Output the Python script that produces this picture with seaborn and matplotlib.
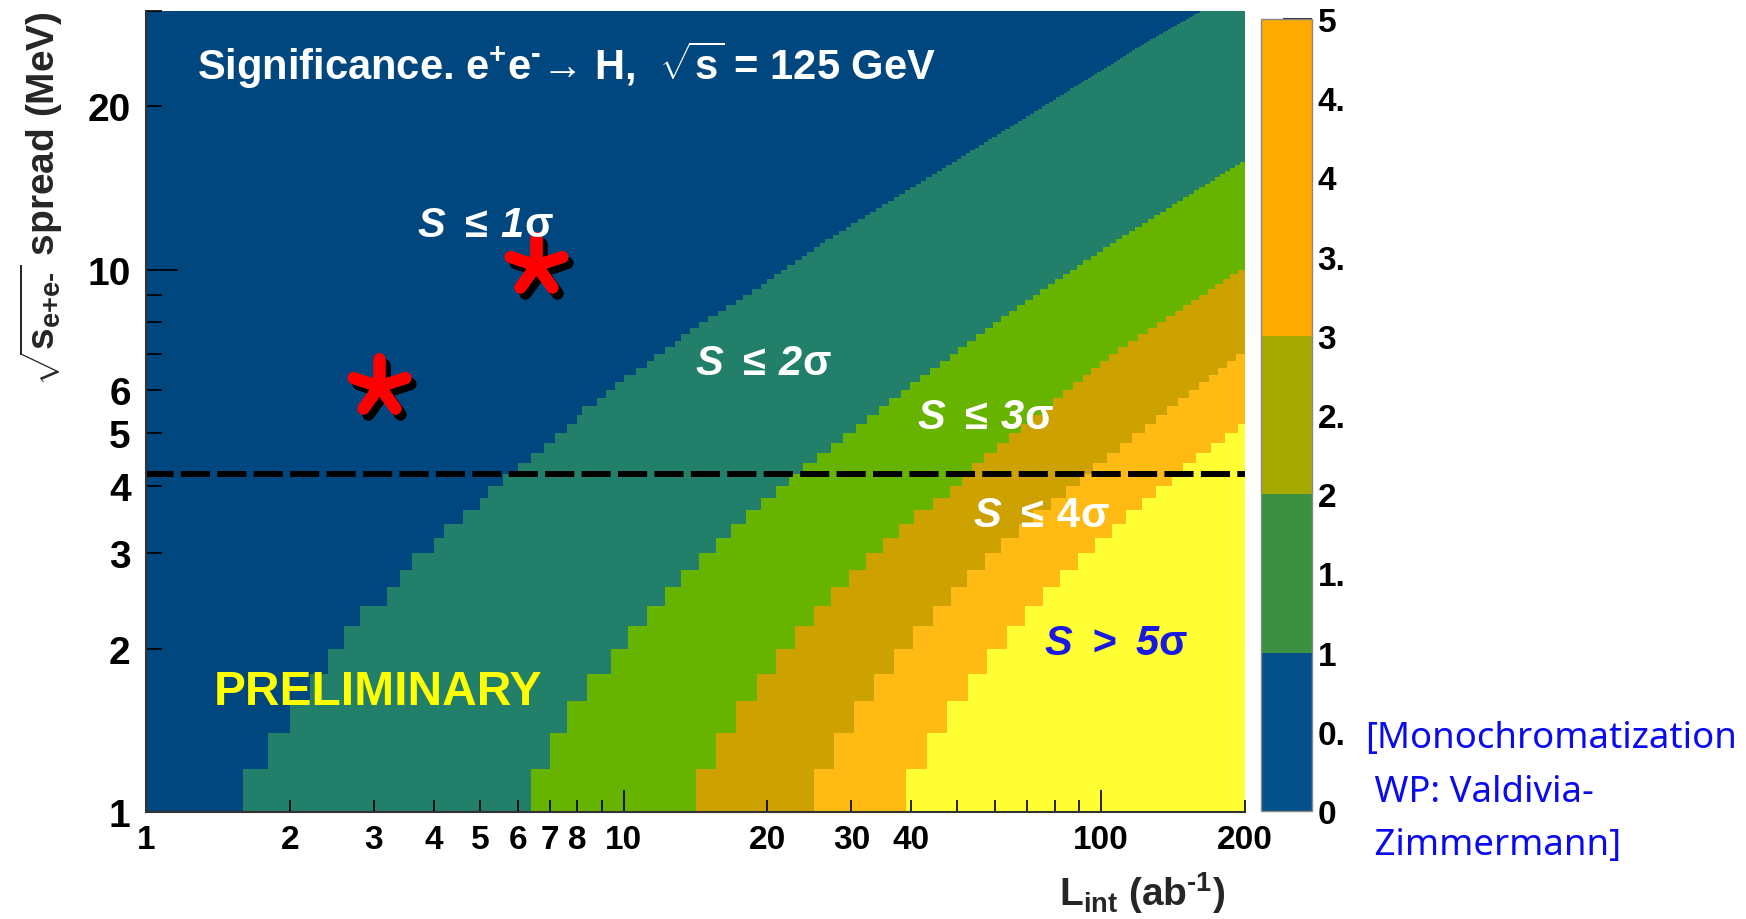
import numpy as np
import matplotlib
matplotlib.use("Agg")
import matplotlib as mpl
import matplotlib.pyplot as plt
import seaborn as sns
from matplotlib.colors import ListedColormap, BoundaryNorm, Normalize
from matplotlib.ticker import FixedLocator, FixedFormatter
from matplotlib.transforms import ScaledTranslation

# ---------------------------------------------------------------------------
# Significance band edges: integrated luminosity (ab^-1) at which each
# significance level is first reached, for a given c.m. energy spread (MeV).
# ---------------------------------------------------------------------------
edge1_spread = [1.1, 1.3, 1.5, 1.9, 2.1, 2.3, 2.5, 2.7, 2.9, 3.1, 3.3, 3.5, 3.7,
                3.9, 4.1, 4.3, 4.5, 4.7, 4.9, 5.5, 6.3, 7.8, 9.2, 11.3, 14.5,
                18.4, 25.9, 30.0]
edge1_lumi = [1.6, 1.8, 2.0, 2.4, 2.6, 2.8, 3.2, 3.4, 3.6, 4.0, 4.2, 4.6, 5.0,
              5.2, 5.6, 6.0, 6.4, 6.8, 7.2, 8.3, 10.1, 14.1, 19.0, 26.5, 42.0,
              65.0, 121.0, 162.0]

edge2_spread = [1.1, 1.3, 1.5, 1.7, 1.9, 2.1, 2.3, 2.5, 2.7, 2.9, 3.1, 3.3, 3.5,
                3.7, 3.9, 4.1, 4.3, 6.3, 8.4, 11.4, 15.9]
edge2_lumi = [6.4, 7.0, 7.6, 8.4, 9.4, 10.2, 11.2, 12.2, 13.2, 14.4, 15.6, 16.8,
              18.0, 19.4, 20.8, 22.2, 23.8, 41.8, 65.2, 109.0, 200.0]

edge3_spread = [1.1, 1.3, 1.5, 1.7, 1.9, 2.1, 2.3, 2.5, 2.7, 2.9, 3.1, 3.3, 3.5,
                3.7, 3.9, 4.1, 4.4, 7.0, 10.1]
edge3_lumi = [14.2, 15.6, 17.2, 19.0, 20.8, 22.8, 25.0, 27.2, 29.6, 32.2, 35.0,
              37.8, 40.6, 44.4, 48.2, 51.0, 55.0, 106.0, 200.0]

edge4_spread = [1.1, 1.3, 1.5, 1.7, 1.9, 2.1, 2.3, 2.5, 2.7, 2.9, 3.1, 3.3, 3.5,
                3.7, 3.9, 4.1, 4.3, 7.1]
edge4_lumi = [25.0, 27.6, 30.4, 33.4, 36.8, 40.4, 44.4, 48.4, 52.4, 57.2, 61.6,
              67.2, 72.0, 78.4, 84.4, 90.4, 96.0, 200.0]

edge5_spread = [1.1, 1.3, 1.5, 1.7, 1.9, 2.1, 2.3, 2.5, 2.7, 2.9, 3.1, 3.3, 3.5,
                3.7, 3.9, 4.1, 4.3, 4.5, 5.2]
edge5_lumi = [39.0, 43.2, 47.6, 52.6, 57.6, 63.6, 69.4, 75.6, 82.0, 89.6, 97.0,
              105.2, 112.6, 121.6, 130.4, 140.6, 148.5, 158.0, 200.0]

# Working points (luminosity, spread) and the nominal spread line
star_lumi = [3.07, 6.55]
star_spread = [6.1, 10.2]
nominal_spread = 4.2

lumi_range = [1.0, 200.0]
spread_range = [1.0, 30.0]
bin_width = 0.2

# Axis ticks and labels
x_major = [1, 10, 100]
x_major_labels = ["1", "10", "100"]
x_minor = [2, 3, 4, 5, 6, 7, 8, 9, 20, 30, 40, 50, 60, 70, 80, 90, 200]
x_minor_labels = ["2", "3", "4", "5", "6", "7", "8", "", "20", "30", "40",
                  "", "", "", "", "", "200"]
y_major = [1, 10]
y_major_labels = ["1", "10"]
y_minor = [2, 3, 4, 5, 6, 7, 8, 9, 20, 30]
y_minor_labels = ["2", "3", "4", "5", "6", "", "", "", "20", ""]
cbar_ticks = [0, 0.5, 1, 1.5, 2, 2.5, 3, 3.5, 4, 4.5, 5]
cbar_labels = ["0", "0.", "1", "1.", "2", "2.", "3", "3.", "4", "4.", "5"]

band_colors = ["#00467F", "#22806A", "#66B300", "#CCA100", "#FFBA14", "#FFFF33"]
cbar_colors = ["#04508A", "#3C9140", "#A5A900", "#FFAA00", "#FFAA00"]

# ---------------------------------------------------------------------------
sns.set_theme(style="ticks")
plt.rcParams.update({
    "font.family": ["Liberation Sans", "DejaVu Sans"],
    "font.weight": "bold",
    "mathtext.fontset": "custom",
    "mathtext.rm": "Liberation Sans:bold",
    "mathtext.bf": "Liberation Sans:bold",
    "mathtext.it": "Liberation Sans:bold:italic",
    "mathtext.cal": "Liberation Sans:bold:italic",
    "mathtext.sf": "Liberation Sans",
    "mathtext.default": "rm",
    "axes.unicode_minus": False,
})

W, H = 1746, 920


def fx(px):
    return px / W


def fy(py):
    return 1 - py / H


fig = plt.figure(figsize=(W / 100, H / 100), dpi=100)
ax = fig.add_axes([fx(146), fy(813), fx(1245) - fx(146), fy(12) - fy(813)])

# Binned significance map: each cell gets the number of band edges passed
x_edges = np.round(np.arange(lumi_range[0], lumi_range[1] + 1e-9, bin_width), 6)
y_edges = np.round(np.arange(spread_range[0], spread_range[1] + 1e-9, bin_width), 6)
xc = 0.5 * (x_edges[:-1] + x_edges[1:])
yc = 0.5 * (y_edges[:-1] + y_edges[1:])

band_edges = [(edge1_spread, edge1_lumi), (edge2_spread, edge2_lumi),
              (edge3_spread, edge3_lumi), (edge4_spread, edge4_lumi),
              (edge5_spread, edge5_lumi)]
level = np.zeros((len(yc), len(xc)), dtype=int)
for sp, lu in band_edges:
    thr = np.exp(np.interp(np.log(yc), np.log(sp), np.log(lu), right=np.inf))
    level += (xc[None, :] >= thr[:, None] - 1e-9).astype(int)

ax.set_xscale("log")
ax.set_yscale("log")
ax.pcolormesh(x_edges, y_edges, level, cmap=ListedColormap(band_colors),
              norm=BoundaryNorm(np.arange(-0.5, 6.5, 1.0), 6),
              shading="flat", antialiased=False, linewidth=0, zorder=1)

# Nominal spread line
sns.lineplot(x=lumi_range, y=[nominal_spread, nominal_spread], ax=ax,
             color="black", linewidth=4.3, linestyle=(0.27, (4.88, 1.22)),
             zorder=3)

# Working points with drop shadow
sns.scatterplot(x=star_lumi, y=star_spread, ax=ax, marker=(5, 2, 0), s=1550,
                color="black", linewidth=8.5, zorder=4, legend=False)
shadow = ax.collections[-1]
shadow.set_offset_transform(ax.transData + ScaledTranslation(0.05, -0.06, fig.dpi_scale_trans))
shadow.set_capstyle("butt")
sns.scatterplot(x=star_lumi, y=star_spread, ax=ax, marker=(5, 2, 0), s=1550,
                color="#FF0000", linewidth=8.5, zorder=5, legend=False)
ax.collections[-1].set_capstyle("butt")

ax.set_xlim(lumi_range)
ax.set_ylim(spread_range)
ax.set_xlabel("")
ax.set_ylabel("")
ax.set_axisbelow(False)

ax.xaxis.set_major_locator(FixedLocator(x_major))
ax.xaxis.set_major_formatter(FixedFormatter(x_major_labels))
ax.xaxis.set_minor_locator(FixedLocator(x_minor))
ax.xaxis.set_minor_formatter(FixedFormatter(x_minor_labels))
ax.yaxis.set_major_locator(FixedLocator(y_major))
ax.yaxis.set_major_formatter(FixedFormatter(y_major_labels))
ax.yaxis.set_minor_locator(FixedLocator(y_minor))
ax.yaxis.set_minor_formatter(FixedFormatter(y_minor_labels))

ax.tick_params(axis="x", which="major", direction="in", length=16, width=1.2,
               labelsize=24, pad=9, colors="black")
ax.tick_params(axis="x", which="minor", direction="in", length=8.6, width=1.2,
               labelsize=24, pad=9, colors="black")
ax.tick_params(axis="y", which="major", direction="in", length=23, width=1.2,
               labelsize=28, pad=11, colors="black")
ax.tick_params(axis="y", which="minor", direction="in", length=11.5, width=1.2,
               labelsize=28, pad=11, colors="black")
for side in ("top", "right"):
    ax.spines[side].set_visible(False)
for side in ("left", "bottom"):
    ax.spines[side].set_color("#333333")
    ax.spines[side].set_linewidth(1.5)
    ax.spines[side].set_zorder(6)

# Colour scale
cax = fig.add_axes([fx(1261), fy(812), fx(1312) - fx(1261), fy(20) - fy(812)])
sm = mpl.cm.ScalarMappable(norm=Normalize(0, 5), cmap=ListedColormap(cbar_colors))
cb = fig.colorbar(sm, cax=cax, ticks=cbar_ticks)
cb.set_ticklabels(cbar_labels)
cb.minorticks_off()
cax.tick_params(direction="in", length=21, width=1.2, labelsize=24, pad=4,
                right=True, left=False, colors="black")
cb.outline.set_edgecolor("#888888")
cb.outline.set_linewidth(1.0)

# Text
fig.text(fx(197), fy(80),
         r"Significance. e$^{+}$e$^{\text{-}}$→ H,  $\sqrt{s}$ = 125 GeV",
         fontsize=30, color="white", va="baseline", ha="left")

band_labels = [
    (r"$\mathcal{S}\ \mathsf{\leq}\,\mathcal{1}\mathsf{\sigma}$", 417, 237, "white"),
    (r"$\mathcal{S}\ \mathsf{\leq}\,\mathcal{2}\mathsf{\sigma}$", 695, 375, "white"),
    (r"$\mathcal{S}\ \mathsf{\leq}\,\mathcal{3}\mathsf{\sigma}$", 917, 429, "white"),
    (r"$\mathcal{S}\ \mathsf{\leq}\,\mathsf{4}\mathsf{\sigma}$", 973, 527, "white"),
    (r"$\mathcal{S}\ \mathcal{>}\ \mathcal{5}\mathsf{\sigma}$", 1044, 655, "#1919E1"),
]
for txt, px, py, col in band_labels:
    fig.text(fx(px), fy(py), txt, fontsize=30, color=col, va="baseline", ha="left")

fig.text(fx(214), fy(705), "PRELIMINARY", fontsize=34.5, color="#FFFF00",
         va="baseline", ha="left")

fig.text(fx(41), fy(11),
         r"$\sqrt{\mathbf{s}_{\mathbf{e{+}e\text{-}}}}$ spread (MeV)",
         fontsize=28, rotation=90, ha="center", va="top")
fig.text(fx(1225), fy(906), r"L$_{\mathbf{int}}$ (ab$^{\text{-}\mathbf{1}}$)",
         fontsize=28, ha="right", va="baseline")

for line, px, py in [("[Monochromatization", 1365, 748),
                     (" WP: Valdivia-", 1365, 802),
                     (" Zimmermann]", 1365, 855)]:
    fig.text(fx(px), fy(py), line, fontsize=26.3, color="#0A0AF0",
             family=["Noto Sans", "DejaVu Sans"], weight="normal",
             va="baseline", ha="left")

fig.savefig("out.png", dpi=100)
